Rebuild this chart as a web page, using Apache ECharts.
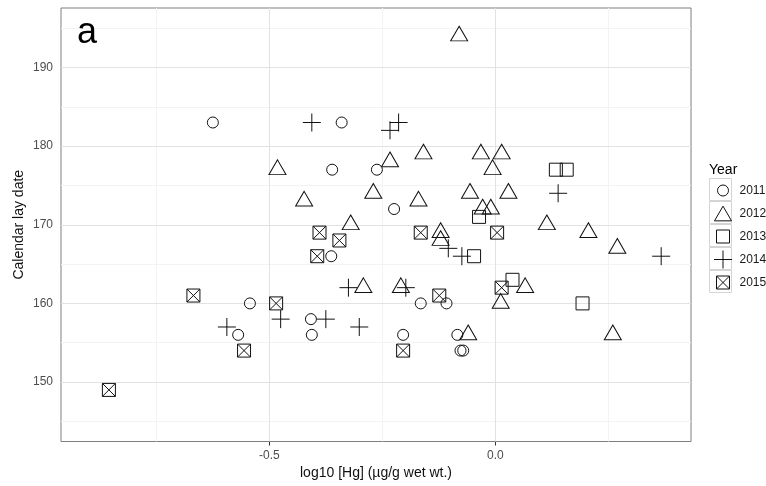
<!DOCTYPE html>
<html>
<head>
<meta charset="utf-8">
<script src="https://cdn.jsdelivr.net/npm/echarts@6/dist/echarts.min.js"></script>
<style>
html,body{margin:0;padding:0;background:#fff;}
#chart{width:766px;height:486px;}
</style>
</head>
<body>
<div id="chart"></div>
<script>
// ---- data ----
const years = ['2011', '2012', '2013', '2014', '2015'];

const hg2011 = [-0.625, -0.340, -0.361, -0.262, -0.224, -0.363, -0.543, -0.165, -0.108, -0.408, -0.569, -0.406, -0.204, -0.084, -0.077, -0.071];
const lay2011 = [183, 183, 177, 177, 172, 166, 160, 160, 160, 158, 156, 156, 156, 156, 154, 154];

const hg2012 = [-0.482, -0.423, -0.080, -0.159, -0.032, 0.014, -0.233, -0.006, -0.270, -0.170, -0.056, 0.029, -0.028, -0.010, -0.320, 0.114, 0.206, -0.121, -0.121, 0.270, -0.292, -0.209, 0.066, 0.012, -0.060, 0.260];
const lay2012 = [177, 173, 194, 179, 179, 179, 178, 177, 174, 173, 174, 174, 172, 172, 170, 170, 169, 169, 168, 167, 162, 162, 162, 160, 156, 156];

const hg2013 = [0.134, 0.158, -0.036, -0.047, 0.038, 0.193];
const lay2013 = [177, 177, 171, 166, 163, 160];

const hg2014 = [-0.406, -0.233, -0.214, 0.139, -0.104, -0.074, 0.367, -0.325, -0.198, -0.301, -0.594, -0.475, -0.375];
const lay2014 = [183, 182, 183, 174, 167, 166, 166, 162, 162, 157, 157, 158, 158];

const hg2015 = [-0.389, -0.345, -0.394, -0.165, 0.004, -0.124, 0.014, -0.668, -0.485, -0.556, -0.204, -0.855];
const lay2015 = [169, 168, 166, 169, 169, 161, 162, 161, 160, 154, 154, 149];

const xTicks = [-0.5, 0.0];
const xMinor = [-0.75, -0.25, 0.25];
const yTicks = [150, 160, 170, 180, 190];
const yMinor = [145, 155, 165, 175, 185, 195];

// ---- styling ----
const FONT = '"Liberation Sans", Arial, sans-serif';
const INK = '#111';

const symbols = {
  '2011': { symbol: 'circle', size: 11, offset: [0, 0] },
  '2012': { symbol: 'triangle', size: [17, 14.7], offset: [0, -2.45] },
  '2013': { symbol: 'rect', size: 13, offset: [0, 0] },
  '2014': { symbol: 'path://M0 9H18M9 0V18', size: 18, offset: [0, 0] },
  '2015': { symbol: 'path://M0 0H13V13H0ZM0 0L13 13M13 0L0 13', size: 13, offset: [0, 0] }
};
const legendIcons = {
  '2011': 'path://M0 0M23 23M6 11.5A5.5 5.5 0 1 1 17 11.5A5.5 5.5 0 1 1 6 11.5Z',
  '2012': 'path://M0 0M23 23M3 18.85L11.5 4.15L20 18.85Z',
  '2013': 'path://M0 0M23 23M5 5H18V18H5Z',
  '2014': 'path://M0 0M23 23M2.5 11.5H20.5M11.5 2.5V20.5',
  '2015': 'path://M0 0M23 23M5 5H18V18H5ZM5 5L18 18M18 5L5 18'
};

const seriesData = {
  '2011': [hg2011, lay2011],
  '2012': [hg2012, lay2012],
  '2013': [hg2013, lay2013],
  '2014': [hg2014, lay2014],
  '2015': [hg2015, lay2015]
};

const series = years.map(function (yr) {
  const xs = seriesData[yr][0], ys = seriesData[yr][1];
  return {
    name: yr,
    type: 'scatter',
    z: 3,
    symbol: symbols[yr].symbol,
    symbolSize: symbols[yr].size,
    symbolOffset: symbols[yr].offset,
    itemStyle: { color: 'transparent', borderColor: INK, borderWidth: 1, opacity: 1 },
    emphasis: { disabled: true },
    data: xs.map(function (x, i) { return [x, ys[i]]; })
  };
});

// helper series carrying the panel grid lines
const gridMajor = { color: '#e2e2e2', width: 1, type: 'solid' };
const gridMinor = { color: '#f3f3f3', width: 1, type: 'solid' };
series.push({
  name: '_grid',
  type: 'scatter',
  data: [],
  silent: true,
  markLine: {
    z: 1,
    silent: true,
    symbol: 'none',
    animation: false,
    label: { show: false },
    emphasis: { disabled: true },
    data: []
      .concat(xMinor.map(function (v) { return { xAxis: v, lineStyle: gridMinor }; }))
      .concat(yMinor.map(function (v) { return { yAxis: v, lineStyle: gridMinor }; }))
      .concat(xTicks.map(function (v) { return { xAxis: v, lineStyle: gridMajor }; }))
      .concat(yTicks.map(function (v) { return { yAxis: v, lineStyle: gridMajor }; }))
  }
});

const legendTop = 178, keySize = 23, legendLeft = 709;
const keyBoxes = years.map(function (yr, i) {
  return {
    type: 'rect',
    z: 1,
    shape: { x: legendLeft + 0.5, y: legendTop + i * keySize + 0.5, width: keySize - 1, height: keySize - 1 },
    style: { fill: '#fff', stroke: '#d4d4d4', lineWidth: 1 }
  };
});

const option = {
  animation: false,
  backgroundColor: '#fff',
  textStyle: { fontFamily: FONT },
  title: [
    { text: 'a', left: 77, top: 15, padding: 0,
      textStyle: { fontSize: 36, fontWeight: 'normal', color: '#000', fontFamily: FONT } },
    { text: 'Year', left: legendLeft, top: 163, padding: 0,
      textStyle: { fontSize: 14, fontWeight: 'normal', color: '#000', fontFamily: FONT } }
  ],
  grid: {
    left: 61, top: 8, right: 75, bottom: 44.5,
    show: true, backgroundColor: '#fff', borderColor: '#7f7f7f', borderWidth: 1
  },
  xAxis: {
    type: 'value',
    min: -0.961, max: 0.433,
    name: 'log10 [Hg] (µg/g wet wt.)',
    nameLocation: 'middle',
    nameGap: 25,
    nameTextStyle: { fontSize: 14, color: '#111', fontFamily: FONT },
    axisLine: { show: false },
    splitLine: { show: false },
    axisTick: { show: true, length: 4, customValues: xTicks, lineStyle: { color: '#333' } },
    axisLabel: {
      customValues: xTicks, margin: 8, fontSize: 12, color: '#4d4d4d', fontFamily: FONT,
      formatter: function (v) { return Number(v).toFixed(1); }
    }
  },
  yAxis: {
    type: 'value',
    min: 142.44, max: 197.56,
    name: 'Calendar lay date',
    nameLocation: 'middle',
    nameGap: 35,
    nameMoveOverlap: false,
    nameTextStyle: { fontSize: 14, color: '#111', fontFamily: FONT },
    axisLine: { show: false },
    splitLine: { show: false },
    axisTick: { show: true, length: 4, customValues: yTicks, lineStyle: { color: '#333' } },
    axisLabel: {
      customValues: yTicks, margin: 8, fontSize: 12, color: '#4d4d4d', fontFamily: FONT,
      formatter: function (v) { return String(Math.round(v)); }
    }
  },
  legend: {
    orient: 'vertical',
    left: legendLeft, top: legendTop - 1.5,
    padding: 0,
    itemGap: -5,
    itemWidth: keySize, itemHeight: keySize,
    selectedMode: false,
    textStyle: { fontSize: 12, color: '#1a1a1a', fontFamily: FONT },
    data: years.map(function (yr) {
      return { name: yr, icon: legendIcons[yr],
        itemStyle: { color: 'none', borderColor: INK, borderWidth: 1, opacity: 1 } };
    })
  },
  graphic: keyBoxes,
  series: series
};

const chart = echarts.init(document.getElementById('chart'), null, { renderer: 'canvas' });
chart.setOption(option);
</script>
</body>
</html>
